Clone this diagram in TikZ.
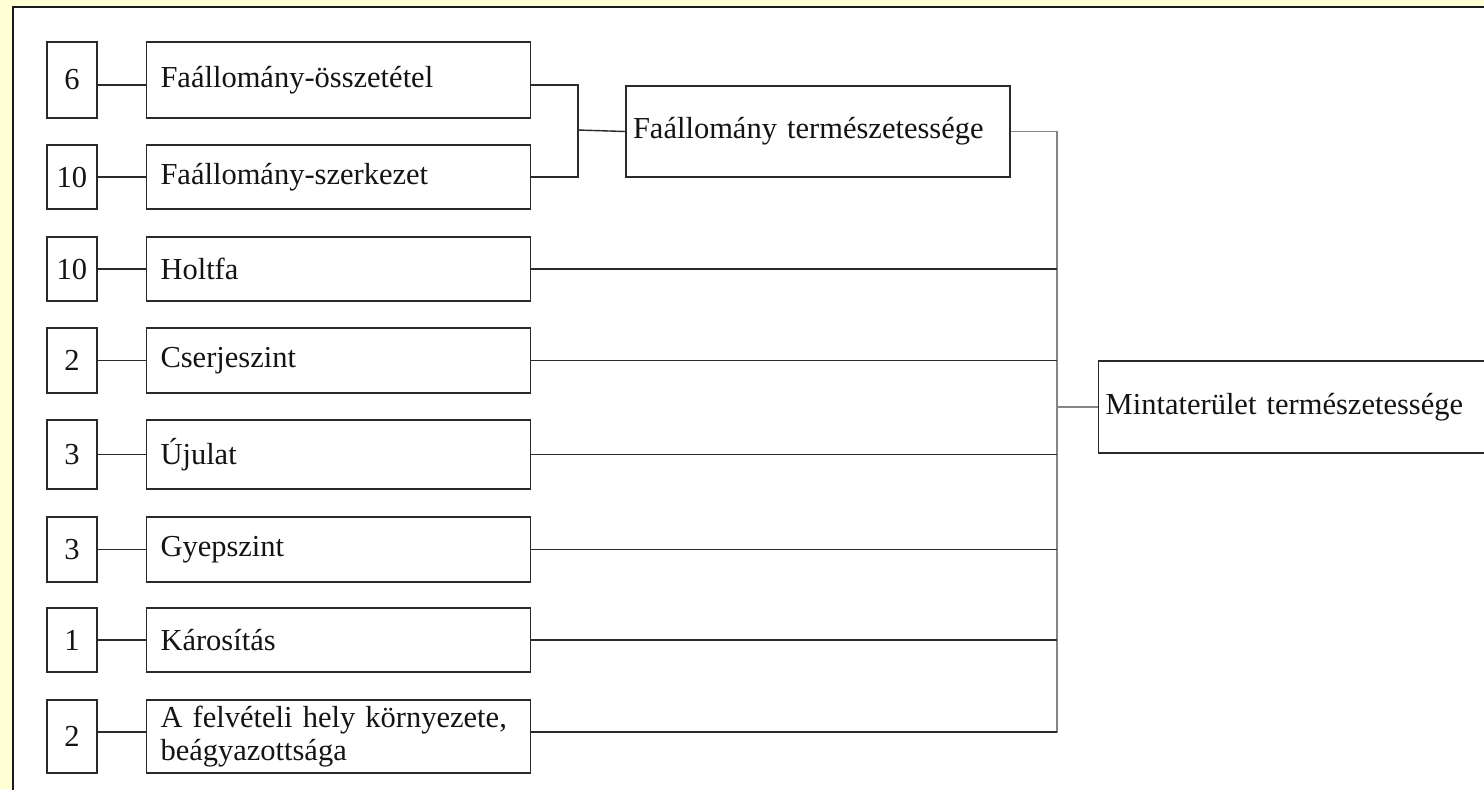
\documentclass[tikz,border=0pt]{standalone}
\usepackage{fontspec}
\setmainfont{Liberation Serif}
\definecolor{bgyellow}{HTML}{FFFFD6}
\definecolor{frameline}{HTML}{1A1A1A}
\definecolor{boxline}{HTML}{2A2A2A}
\definecolor{trunkline}{HTML}{858585}
\begin{document}
\begin{tikzpicture}[x=0.5pt,y=-0.5pt,
  txt/.style={font=\fontsize{15.25}{16.5}\selectfont, text=black!92},
  numbox/.style={txt, draw=boxline, line width=0.7pt, minimum width=25pt, inner sep=0pt},
  labbox/.style={txt, draw=boxline, line width=0.7pt, text width=178pt, inner xsep=7pt, inner ysep=0pt, align=left},
  bigbox/.style={txt, draw=boxline, line width=0.7pt, text width=185pt, inner xsep=3.5pt, inner ysep=0pt, align=left},
  conn/.style={draw=boxline, line width=0.7pt},
  trunk/.style={draw=trunkline, line width=0.7pt}]
\useasboundingbox (0,0) rectangle (1484,789);
\clip (0,0) rectangle (1484,789);
% frame
\fill[bgyellow] (0,0) rectangle (1484,789);
\fill[white] (13,7) rectangle (1500,800);
\draw[frameline, line width=1.2pt] (13,800) -- (13,7) -- (1500,7);

% number boxes
\node[numbox, minimum height=38pt]   (n1) at (72,80)    {6};
\node[numbox, minimum height=32pt]   (n2) at (72,177)   {10};
\node[numbox, minimum height=32pt]   (n3) at (72,269)   {10};
\node[numbox, minimum height=32.5pt] (n4) at (72,360.5) {2};
\node[numbox, minimum height=34.5pt] (n5) at (72,454.5) {3};
\node[numbox, minimum height=32.5pt] (n6) at (72,549.5) {3};
\node[numbox, minimum height=32pt]   (n7) at (72,640)   {1};
\node[numbox, minimum height=36.5pt] (n8) at (72,736.5) {2};

% label boxes
\node[labbox, minimum height=38pt]   (l1) at (338.5,80)    {Faállomány-összetétel};
\node[labbox, minimum height=32pt]   (l2) at (338.5,177)   {Faállomány-szerkezet};
\node[labbox, minimum height=32pt]   (l3) at (338.5,269)   {Holtfa};
\node[labbox, minimum height=32.5pt] (l4) at (338.5,360.5) {Cserjeszint};
\node[labbox, minimum height=34.5pt] (l5) at (338.5,454.5) {Újulat};
\node[labbox, minimum height=32.5pt] (l6) at (338.5,549.5) {Gyepszint};
\node[labbox, minimum height=32pt]   (l7) at (338.5,640)   {Károsítás};
\node[labbox, minimum height=36.5pt] (l8) at (338.5,736.5) {A felvételi hely környezete,\\beágyazottsága};

% intermediate and result boxes
\node[bigbox, minimum height=45.5pt] (f) at (818,131.5) {Faállomány természetessége};
\node[bigbox, minimum height=46pt, text width=203pt, anchor=west] (m) at (1098,407) {Mintaterület természetessége};

% number-to-label connectors
\draw[conn] ([yshift=-2.5pt]n1.east) -- ([yshift=-2.5pt]l1.west);
\foreach \i in {2,...,7} { \draw[conn] (n\i.east) -- (l\i.west); }
\draw[conn] ([yshift=2.25pt]n8.east) -- ([yshift=2.25pt]l8.west);

% bracket to Faallomany termeszetessege
\coordinate (bx) at (578,130);
\draw[conn] ([yshift=-2.5pt]l1.east) -| (bx) |- (l2.east);
\draw[conn] (bx) -- (f.west);

% trunk
\coordinate (tx) at (1057,407);
\draw[trunk] (f.east) -| (tx);
\draw[trunk] (tx) |- ([yshift=2.25pt]l8.east);
\foreach \i in {3,...,7} { \draw[conn] (l\i.east) -- (l\i.east -| tx); }
\draw[conn] ([yshift=2.25pt]l8.east) -- ([yshift=2.25pt]l8.east -| tx);
\draw[trunk] (tx) -- (m.west);
\end{tikzpicture}
\end{document}
